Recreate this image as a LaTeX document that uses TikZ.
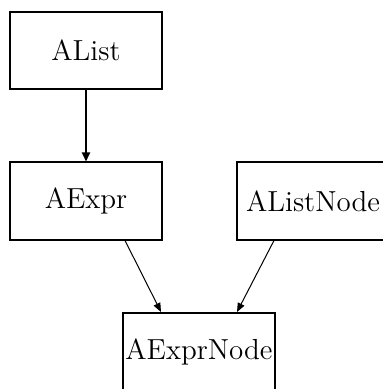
\documentclass[tikz,border=0pt]{standalone}
\usepackage{tikz}
\usetikzlibrary{arrows.meta, positioning}

\begin{document}
\begin{tikzpicture}[
  x=0.5pt, y=-0.5pt,
  classbox/.style={draw, line width=1pt, inner sep=0pt,
              font=\fontsize{14.5}{17}\selectfont,
              minimum width=76pt, minimum height=38.5pt},
  arr/.style={-{Triangle[length=4.5pt, width=3.6pt]}, line width=0.5pt},
  thickarr/.style={-{Triangle[length=4.5pt, width=4pt]}, line width=1pt},
]
\useasboundingbox (0,0) rectangle (383,389);

% ── classes ──────────────────────────────────────────────────
\node[classbox] (alist) at (86, 50.5) {AList};
\node[classbox] (aexpr) at (86, 201) {AExpr};
\node[classbox] (alistnode) at (313, 201) {AListNode};
\node[classbox] (aexprnode) at (199, 351.5) {AExprNode};

% ── links ────────────────────────────────────────────────────
\draw[thickarr] (alist.south) -- (aexpr.north);
\draw[arr] ([xshift=19.5pt]aexpr.south) -- ([xshift=-19pt]aexprnode.north);
\draw[arr] ([xshift=-19.5pt]alistnode.south) -- ([xshift=19pt]aexprnode.north);

\end{tikzpicture}
\end{document}
